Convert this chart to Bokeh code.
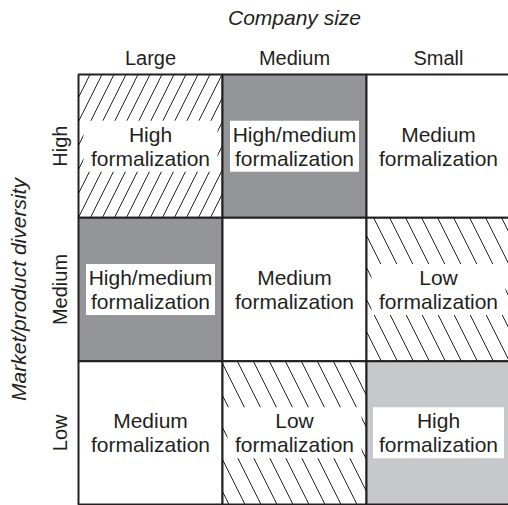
from bokeh.plotting import figure
from bokeh.models import ColumnDataSource, Range1d
from bokeh.core.properties import value
from bokeh.embed import file_html
from bokeh.resources import INLINE
import math

# ---- data ----
columns = ["Large", "Medium", "Small"]          # company size
rows = ["High", "Medium", "Low"]                # market/product diversity
cell_texts = [
    ["High\nformalization", "High/medium\nformalization", "Medium\nformalization"],
    ["High/medium\nformalization", "Medium\nformalization", "Low\nformalization"],
    ["Medium\nformalization", "Low\nformalization", "High\nformalization"],
]
x_title = "Company size"
y_title = "Market/product diversity"

# ---- styles per cell (row, col) ----
DARK = "#939598"
LIGHT = "#c7c8ca"
INK = "#231f20"
styles = {
    (0, 0): "hatch_fwd", (0, 1): "dark", (0, 2): "white",
    (1, 0): "dark", (1, 1): "white", (1, 2): "hatch_back",
    (2, 0): "white", (2, 1): "hatch_back", (2, 2): "light",
}
style_map = {
    "white": dict(fill="white", hatch=" ", scale=12, box=0),
    "dark": dict(fill=DARK, hatch=" ", scale=12, box=129),
    "light": dict(fill=LIGHT, hatch=" ", scale=12, box=131),
    "hatch_fwd": dict(fill="white", hatch="/", scale=24, box=134),
    "hatch_back": dict(fill="white", hatch="\\", scale=32, box=134),
}

n = len(columns)
L, R, B, T, F, H, S, TX, XC, YC, BW = [], [], [], [], [], [], [], [], [], [], []
for r in range(len(rows)):
    for c in range(n):
        st = style_map[styles[(r, c)]]
        L.append(c); R.append(c + 1)
        B.append(n - 1 - r); T.append(n - r)
        F.append(st["fill"]); H.append(st["hatch"]); S.append(st["scale"])
        TX.append(cell_texts[r][c])
        XC.append(c + 0.5); YC.append(n - r - 0.5)
        BW.append(st["box"])

cells = ColumnDataSource(dict(left=L, right=R, bottom=B, top=T, fill=F,
                              hatch=H, scale=S, text=TX, x=XC, y=YC, bw=BW))

W, Hh = 508, 505
OX, OY = 78, 74          # grid origin (top-left) in figure pixels
px_x = 144.0
px_y = 430.0 / 3
p = figure(width=W, height=Hh, output_backend="svg", toolbar_location=None,
           x_range=Range1d(-OX / px_x, (W - OX) / px_x),
           y_range=Range1d(-(Hh - OY - 430) / px_y, 3 + OY / px_y),
           min_border=0)
p.axis.visible = False
p.grid.visible = False
p.outline_line_color = None
p.background_fill_color = "white"

p.quad(left="left", right="right", bottom="bottom", top="top", source=cells,
       fill_color="fill", hatch_pattern="hatch", hatch_scale="scale",
       hatch_color=INK, hatch_weight=1.0, line_color=INK, line_width=2)

p.rect(x="x", y="y", width="bw", height=51, width_units="screen",
       height_units="screen", source=cells, fill_color="white", line_color=None)

p.text(x="x", y="y", text="text", source=cells, text_align="center",
       text_baseline="middle", text_font=value("Liberation Sans"),
       text_font_size="21px", text_line_height=1.05, text_color=INK)

# column labels
col_src = ColumnDataSource(dict(x=[i + 0.5 for i in range(n)],
                                y=[3 + 17 / px_y] * n, text=columns))
p.text(x="x", y="y", text="text", source=col_src, text_align="center",
       text_baseline="middle", text_font=value("Liberation Sans"),
       text_font_size="20px", text_color=INK)

# row labels
row_src = ColumnDataSource(dict(x=[-19 / px_x] * n,
                                y=[n - i - 0.5 for i in range(n)], text=rows))
p.text(x="x", y="y", text="text", source=row_src, angle=math.pi / 2,
       text_align="center", text_baseline="middle",
       text_font=value("Liberation Sans"), text_font_size="20px", text_color=INK)

# titles
p.text(x=[1.5], y=[3 + 57 / px_y], text=[x_title], text_align="center",
       text_baseline="middle", text_font=value("Liberation Sans"),
       text_font_style="italic", text_font_size="21px", text_color=INK)
p.text(x=[-60 / px_x], y=[1.5], text=[y_title], angle=math.pi / 2,
       text_align="center", text_baseline="middle",
       text_font=value("Liberation Sans"), text_font_style="italic",
       text_font_size="21px", text_color=INK)

open("out.html", "w").write(file_html(p, INLINE))
